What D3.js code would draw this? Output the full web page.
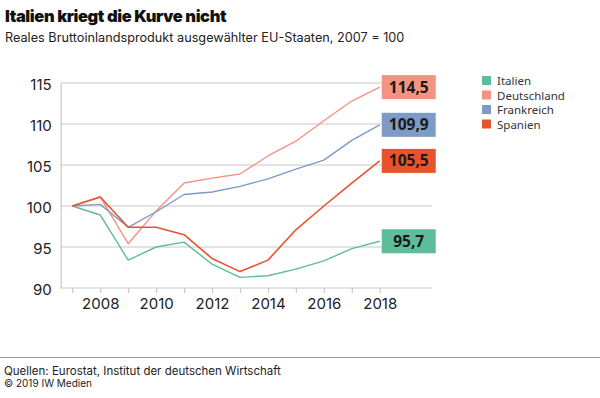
<!DOCTYPE html>
<html><head><meta charset="utf-8">
<script src="https://cdn.jsdelivr.net/npm/d3@7"></script>
<style>
body{margin:0;background:#fff;}
svg{display:block;}
</style></head>
<body><svg id="c" width="600" height="398"></svg>
<script>
const years = [2007,2008,2009,2010,2011,2012,2013,2014,2015,2016,2017,2018];
const italien     = [100, 98.9, 93.4, 95.0, 95.6, 92.9, 91.3, 91.5, 92.3, 93.3, 94.8, 95.7];
const deutschland = [100, 101.1, 95.4, 99.4, 102.8, 103.4, 103.9, 106.1, 107.9, 110.4, 112.8, 114.5];
const frankreich  = [100, 100.2, 97.4, 99.3, 101.4, 101.7, 102.4, 103.3, 104.5, 105.6, 108.0, 109.9];
const spanien     = [100, 101.1, 97.4, 97.4, 96.5, 93.6, 92.0, 93.4, 97.1, 100.0, 102.8, 105.5];
const seriesNames = ["Italien","Deutschland","Frankreich","Spanien"];
const endLabels = ["95,7","114,5","109,9","105,5"];
const yTicks = [90,95,100,105,110,115];
const xLabelYears = [2008,2010,2012,2014,2016,2018];

const colors = ["#5dbd9a","#f39482","#7d9bc5","#e8532f"];
const seriesData = [italien, deutschland, frankreich, spanien];

const svg = d3.select("#c");
const x = d3.scaleLinear().domain([2006.585, 2019.87]).range([60.7, 432]);
const y = d3.scaleLinear().domain([90, 115]).range([288, 83]);

// Title
svg.append("text").attr("x",5).attr("y",22).attr("font-family","Inter, 'Open Sans', sans-serif")
  .attr("font-weight",900).attr("font-size",16.5).attr("fill","#111").attr("letter-spacing","-0.4")
  .text("Italien kriegt die Kurve nicht");
svg.append("text").attr("x",5).attr("y",42).attr("font-family","Inter, 'Open Sans', sans-serif")
  .attr("font-size",12.7).attr("fill","#222")
  .text("Reales Bruttoinlandsprodukt ausgewählter EU-Staaten, 2007 = 100");

// gridlines
const g = svg.append("g");
g.selectAll("line.grid").data(yTicks.filter(d=>d>90)).enter().append("line")
  .attr("x1",x.range()[0]).attr("x2",x.range()[1])
  .attr("y1",d=>y(d)).attr("y2",d=>y(d))
  .attr("stroke","#c8c8c8").attr("stroke-width",1.2);

// axes
const yAxis = d3.axisLeft(y).tickValues(yTicks).tickSize(0).tickPadding(9).tickFormat(d3.format("d"));
const ya = svg.append("g").attr("transform",`translate(${x.range()[0]},0)`).call(yAxis);
ya.select(".domain").attr("stroke","#c8c8c8").attr("stroke-width",1.2);
ya.selectAll("text").attr("font-family","Inter, 'Open Sans', sans-serif").attr("font-size",15).attr("fill","#222").attr("dy","0.4em");

const xAxis = d3.axisBottom(x).tickValues(years).tickSize(5).tickFormat(d=> xLabelYears.includes(d)? String(d):"").tickPadding(5);
const xa = svg.append("g").attr("transform",`translate(0,${y(90)})`).call(xAxis);
xa.select(".domain").attr("stroke","#c8c8c8").attr("stroke-width",1.2).attr("d",`M${x.range()[0]},0H${x.range()[1]}`);
xa.selectAll(".tick line").attr("stroke","#c8c8c8").attr("stroke-width",1.2);
xa.selectAll("text").attr("font-family","Inter, 'Open Sans', sans-serif").attr("font-size",15).attr("fill","#222");

// lines
const line = d3.line().x((d,i)=>x(years[i])).y(d=>y(d));
[0,1,2,3].forEach(k=>{
  svg.append("path").datum(seriesData[k]).attr("d",line)
    .attr("fill","none").attr("stroke",colors[k]).attr("stroke-width",k===3?1.6:1.4)
    .attr("stroke-linejoin","round");
});

// end labels
seriesData.forEach((s,k)=>{
  const v = s[s.length-1];
  const cy = y(v);
  const bx = x(2018)+2;
  svg.append("rect").attr("x",bx).attr("y",cy-12).attr("width",54).attr("height",24).attr("fill",colors[k]);
  svg.append("text").attr("x",bx+27).attr("y",cy+5.5).attr("text-anchor","middle")
    .attr("font-family","'Open Sans', sans-serif").attr("font-weight",700).attr("font-size",15.5)
    .attr("fill","#1a1a1a").text(endLabels[k]);
});

// legend
const lg = svg.append("g").attr("transform","translate(482,76)");
seriesNames.forEach((n,k)=>{
  lg.append("rect").attr("x",0).attr("y",k*14.5).attr("width",9).attr("height",9).attr("fill",colors[k]);
  lg.append("text").attr("x",15).attr("y",k*14.5+9).attr("font-family","'Source Sans Pro','Noto Sans', sans-serif")
    .attr("font-size",11.5).attr("fill","#333").text(n);
});

// footer
svg.append("line").attr("x1",0).attr("x2",600).attr("y1",357.5).attr("y2",357.5).attr("stroke","#999").attr("stroke-width",1);
svg.append("text").attr("x",4).attr("y",375).attr("font-family","Inter, 'Open Sans', sans-serif")
  .attr("font-size",11.5).attr("fill","#222").text("Quellen: Eurostat, Institut der deutschen Wirtschaft");
svg.append("text").attr("x",4).attr("y",387).attr("font-family","Inter, 'Open Sans', sans-serif")
  .attr("font-size",10).attr("fill","#222").text("© 2019 IW Medien");
</script></body></html>
